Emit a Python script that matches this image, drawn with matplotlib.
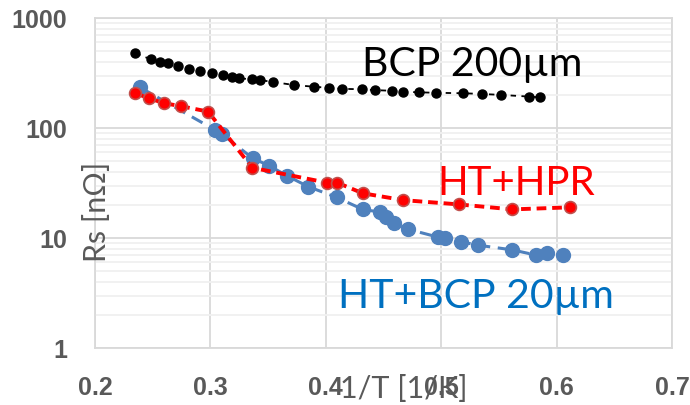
import matplotlib.pyplot as plt
from matplotlib.ticker import LogLocator, NullFormatter, FixedLocator

# BCP 200um
bcp200_x = [0.235, 0.2485, 0.256, 0.263, 0.272, 0.2815, 0.291, 0.301, 0.311, 0.3185,
            0.325, 0.336, 0.343, 0.354, 0.3725, 0.39, 0.403, 0.414, 0.431, 0.4426,
            0.457, 0.4666, 0.481, 0.4955, 0.519, 0.535, 0.5516, 0.576, 0.5856]
bcp200_y = [477, 421, 401, 387, 366, 344, 330, 318, 303, 293,
            283, 277, 273, 262, 246, 237, 232, 227, 225, 221,
            218, 214, 211, 209, 207, 204, 200, 193, 190]

# HT+HPR
hpr_x = [0.235, 0.247, 0.26, 0.2743, 0.298, 0.3363, 0.4013, 0.41, 0.432, 0.467,
         0.5154, 0.5616, 0.6116]
hpr_y = [207, 186, 168, 158, 141, 43.5, 31.8, 31.8, 25.5, 22.1,
         20.2, 18.2, 19.0]

# HT+BCP 20um
bcp20_x = [0.239, 0.304, 0.31, 0.3367, 0.351, 0.3667, 0.3848, 0.4094, 0.432, 0.447,
           0.452, 0.459, 0.4715, 0.497, 0.503, 0.517, 0.532, 0.5616, 0.582, 0.592, 0.6058]
bcp20_y = [234, 96, 88, 53, 45.4, 36.6, 29.3, 23.4, 18.2, 17.2,
           15.5, 13.8, 12.0, 10.2, 10.0, 9.25, 8.6, 7.8, 7.0, 7.24, 7.0]

x_ticks = [0.2, 0.3, 0.4, 0.5, 0.6, 0.7]
y_ticks = [1, 10, 100, 1000]

grey = '#595959'
font = 'Lato'

fig = plt.figure(figsize=(6.9, 4.05), dpi=100)
ax = fig.add_axes([95 / 690, 57 / 405, 577 / 690, 330 / 405])

ax.plot(bcp20_x, bcp20_y, linestyle=(0, (4, 2.5)), color='#4F81BD', lw=2.2,
        marker='o', ms=10, mfc='#4F81BD', mec='#4F81BD', zorder=3)
ax.plot(hpr_x, hpr_y, linestyle=(0, (2.5, 1.5)), color='#FF0000', lw=2.8,
        marker='o', ms=8.5, mfc='#FF0000', mec='#C0504D', mew=1.2, zorder=4)
ax.plot(bcp200_x, bcp200_y, linestyle=(0, (3, 3)), color='black', lw=1.3,
        marker='o', ms=6.5, mfc='black', mec='black', zorder=5)

ax.set_yscale('log')
ax.set_xlim(0.2, 0.7)
ax.set_ylim(1, 1000)
ax.xaxis.set_major_locator(FixedLocator(x_ticks))
ax.yaxis.set_major_locator(FixedLocator(y_ticks))
ax.yaxis.set_minor_locator(LogLocator(base=10, subs=range(2, 10)))
ax.yaxis.set_minor_formatter(NullFormatter())
ax.set_yticklabels([str(v) for v in y_ticks], fontweight='bold',
                   family='Liberation Sans', fontsize=18)
ax.set_xticklabels([str(v) for v in x_ticks], fontweight='bold',
                   family='Liberation Sans', fontsize=18)

ax.grid(True, which='major', color='#D9D9D9', lw=1.3)
ax.grid(True, which='minor', axis='y', color='#F0F0F0', lw=1.3)
ax.set_axisbelow(True)
for s in ax.spines.values():
    s.set_color('#D9D9D9')
    s.set_linewidth(1.3)

ax.tick_params(which='both', length=0)
ax.tick_params(axis='x', pad=20, labelcolor=grey)
ax.tick_params(axis='y', pad=20, labelcolor=grey)

fig.text(97 / 690, 1 - 212 / 405, 'Rs [nΩ]', rotation=90, ha='center', va='center',
         fontsize=22, color=grey, family=font)
fig.text(404 / 690, 1 - 389 / 405, '1/T [1/K]', ha='center', va='center',
         fontsize=22, color=grey, family=font)

ax.text(0.4312, 297, 'BCP 200µm', color='black', fontsize=29.5, family=font,
        ha='left', va='baseline')
ax.text(0.497, 24.6, 'HT+HPR', color='#FF0000', fontsize=29, family=font,
        ha='left', va='baseline')
ax.text(0.411, 2.31, 'HT+BCP 20µm', color='#0070C0', fontsize=29.5, family=font,
        ha='left', va='baseline')

fig.savefig('out.png', dpi=100)
